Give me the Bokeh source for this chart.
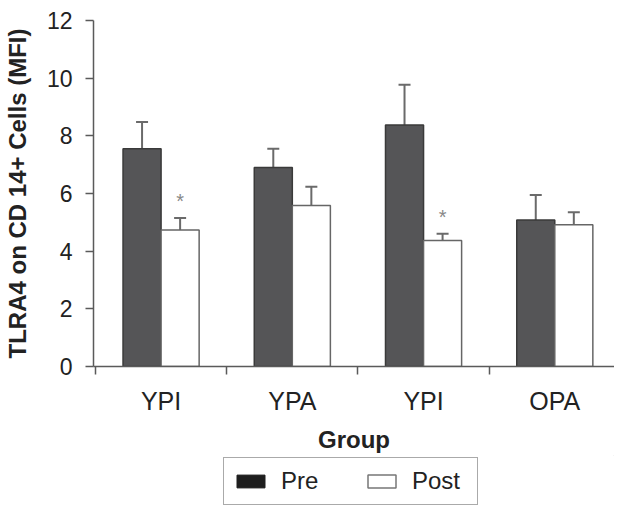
from bokeh.plotting import figure
from bokeh.layouts import column
from bokeh.models import (ColumnDataSource, Whisker, TeeHead, FixedTicker, Legend, LegendItem, Range1d)
from bokeh.core.properties import value
from bokeh.embed import file_html
from bokeh.resources import INLINE

# ---- data ----
groups = ["YPI", "YPA", "YPI", "OPA"]
series = ["Pre", "Post"]
pre = [7.55, 6.90, 8.38, 5.08]
pre_err = [0.93, 0.65, 1.39, 0.87]
post = [4.73, 5.58, 4.37, 4.92]
post_err = [0.42, 0.65, 0.23, 0.43]
significant = [True, False, True, False]   # asterisk on Post bar
y_ticks = [0, 2, 4, 6, 8, 10, 12]

FONT = "Liberation Sans"
xs = list(range(1, len(groups) + 1))
bw = 0.29

pre_src = ColumnDataSource(dict(
    x=[x - bw / 2 for x in xs], top=pre,
    upper=[v + e for v, e in zip(pre, pre_err)]))
post_src = ColumnDataSource(dict(
    x=[x + bw / 2 for x in xs], top=post,
    upper=[v + e for v, e in zip(post, post_err)]))

p = figure(width=614, height=455, output_backend="svg", toolbar_location=None,
           x_range=Range1d(0.485, 4.455), y_range=Range1d(0, 12))
p.min_border_left = 92
p.min_border_right = 0
p.min_border_top = 20
p.min_border_bottom = 86
p.outline_line_color = None
p.xgrid.visible = False
p.ygrid.visible = False
p.background_fill_color = "white"

axis_col = "#5a5a5a"

for src in (pre_src, post_src):
    w = Whisker(source=src, base="x", lower="top", upper="upper", dimension="height",
                line_color="#6a6a6a", line_width=2,
                upper_head=TeeHead(size=12, line_color="#6a6a6a", line_width=2),
                lower_head=None)
    p.add_layout(w)

r_pre = p.vbar(x="x", top="top", width=bw, source=pre_src,
               fill_color="#555557", line_color="#3a3a3a", line_width=1.5)
r_post = p.vbar(x="x", top="top", width=bw, source=post_src,
                fill_color="white", line_color="#666666", line_width=1.5)

ast_x = [x + bw / 2 for x, s in zip(xs, significant) if s]
ast_y = [v + e + 0.6 for v, e, s in zip(post, post_err, significant) if s]
p.text(x=ast_x, y=ast_y, text=["*"] * len(ast_x), text_font=value(FONT),
       text_font_size="20px", text_color="#888888", text_align="center",
       text_baseline="middle")

ya = p.yaxis[0]
ya.ticker = FixedTicker(ticks=y_ticks)
ya.axis_line_color = axis_col
ya.axis_line_width = 1.5
ya.major_tick_line_color = axis_col
ya.major_tick_line_width = 1.5
ya.major_tick_out = 8
ya.major_tick_in = 0
ya.minor_tick_line_color = None
ya.major_label_standoff = 13
ya.major_label_text_font = FONT
ya.major_label_text_font_size = "23px"
ya.major_label_text_color = "#222222"
ya.axis_label = "TLRA4 on CD 14+ Cells (MFI)"
ya.axis_label_text_font = FONT
ya.axis_label_text_font_style = "bold"
ya.axis_label_text_font_size = "24px"
ya.axis_label_text_color = "#222222"
ya.axis_label_standoff = 13

xa = p.xaxis[0]
xa.ticker = FixedTicker(ticks=xs, minor_ticks=[x - 0.5 for x in xs] + [xs[-1] + 0.5])
xa.major_label_overrides = {x: g for x, g in zip(xs, groups)}
xa.axis_line_color = axis_col
xa.axis_line_width = 1.5
xa.major_tick_line_color = None
xa.major_tick_out = 0
xa.major_tick_in = 0
xa.minor_tick_line_color = axis_col
xa.minor_tick_line_width = 1.5
xa.minor_tick_out = 8
xa.minor_tick_in = 0
xa.major_label_standoff = 12
xa.major_label_text_font = FONT
xa.major_label_text_font_size = "25px"
xa.major_label_text_color = "#222222"
xa.axis_label = "Group"
xa.axis_label_text_font = FONT
xa.axis_label_text_font_style = "bold"
xa.axis_label_text_font_size = "24px"
xa.axis_label_text_color = "#222222"
xa.axis_label_standoff = 8

# legend in its own small figure below
lf = figure(width=614, height=52, output_backend="svg", toolbar_location=None,
            x_range=Range1d(0, 1), y_range=Range1d(0, 1))
lf.min_border_left = 92
lf.min_border_right = 0
lf.min_border_top = 0
lf.min_border_bottom = 0
lf.axis.visible = False
lf.grid.visible = False
lf.outline_line_color = None
d_pre = lf.vbar(x=[100], bottom=[100], top=[101], width=0.1,
                fill_color="#1e1e1e", line_color="#1e1e1e")
d_post = lf.vbar(x=[100], bottom=[100], top=[101], width=0.1,
                 fill_color="white", line_color="#777777", line_width=1.5)

legend = Legend(items=[LegendItem(label=series[0], renderers=[d_pre]),
                       LegendItem(label=series[1], renderers=[d_post])],
                orientation="horizontal", location=(130, 2),
                border_line_color="#555555", border_line_width=1.5,
                padding=9, spacing=27, label_standoff=13, label_width=56,
                glyph_width=35, glyph_height=16,
                label_text_font=FONT, label_text_font_size="24px",
                label_text_color="#222222", margin=0)
lf.add_layout(legend, "center")

layout = column(p, lf, spacing=0)
open("out.html", "w").write(file_html(layout, INLINE))
